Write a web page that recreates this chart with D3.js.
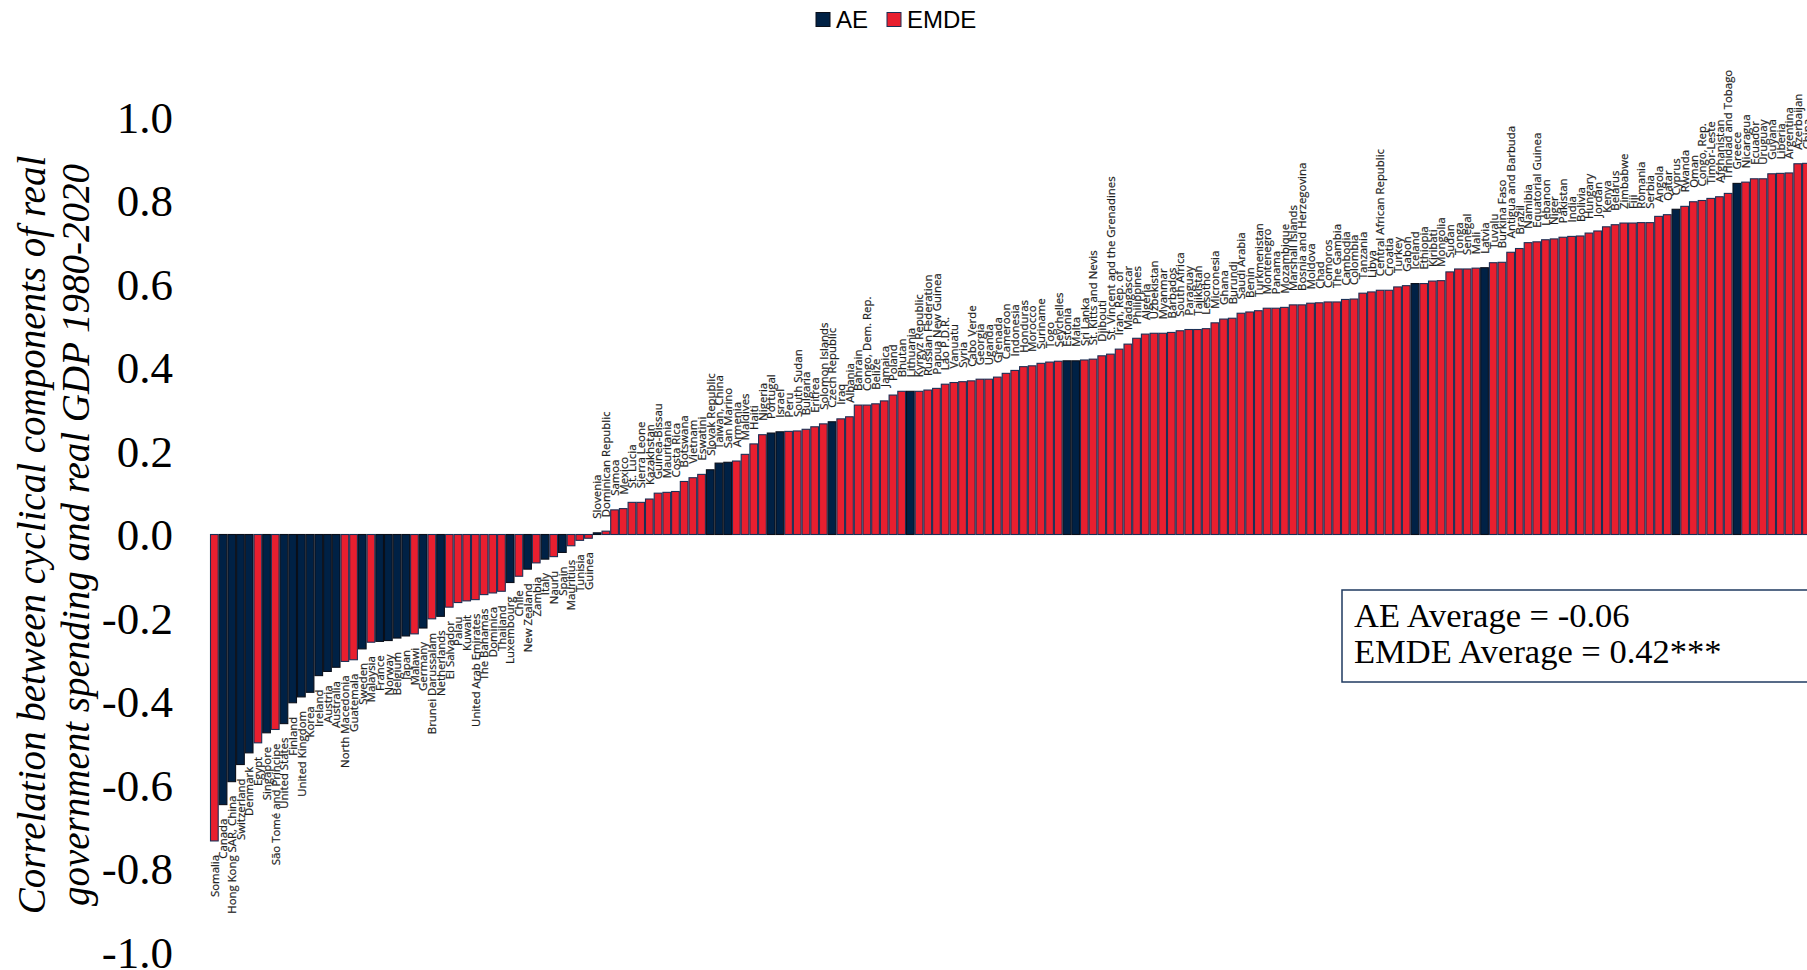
<!DOCTYPE html>
<html>
<head>
<meta charset="utf-8">
<script src="https://cdn.jsdelivr.net/npm/d3@7"></script>
<style>
  html, body { margin: 0; padding: 0; background: #fff; }
  svg { display: block; }
</style>
</head>
<body>
<svg id="chart" width="1807" height="970"></svg>
<script>
// Countries ordered by correlation (ascending)
const countries = [
  "Somalia","Canada","Hong Kong SAR, China","Switzerland","Denmark","Egypt","Singapore","São Tomé and Príncipe","United States","Finland",
  "United Kingdom","Korea","Ireland","Austria","Australia","North Macedonia","Guatemala","Sweden","Malaysia","France",
  "Norway","Belgium","Japan","Malawi","Germany","Brunei Darussalam","Netherlands","El Salvador","Palau","Kuwait",
  "United Arab Emirates","The Bahamas","Dominica","Thailand","Luxembourg","Chile","New Zealand","Zambia","Italy","Nauru",
  "Spain","Mauritius","Tunisia","Guinea","Slovenia","Dominican Republic","Samoa","Mexico","St. Lucia","Sierra Leone",
  "Kazakhstan","Guinea-Bissau","Mauritania","Costa Rica","Botswana","Vietnam","Eswatini","Slovak Republic","Taiwan, China","San Marino",
  "Armenia","Maldives","Haiti","Nigeria","Portugal","Israel","Peru","South Sudan","Bulgaria","Eritrea",
  "Solomon Islands","Czech Republic","Iraq","Albania","Bahrain","Congo, Dem. Rep.","Belize","Jamaica","Poland","Bhutan",
  "Lithuania","Kyrgyz Republic","Russian Federation","Papua New Guinea","Lao P.D.R.","Vanuatu","Syria","Cabo Verde","Georgia","Uganda",
  "Grenada","Cameroon","Indonesia","Honduras","Morocco","Suriname","Togo","Seychelles","Estonia","Malta",
  "Sri Lanka","St. Kitts and Nevis","Djibouti","St. Vincent and the Grenadines","Iran, Rep. of","Madagascar","Philippines","Algeria","Uzbekistan","Myanmar",
  "Barbados","South Africa","Paraguay","Tajikistan","Lesotho","Micronesia","Ghana","Burundi","Saudi Arabia","Benin",
  "Turkmenistan","Montenegro","Panama","Mozambique","Marshall Islands","Bosnia and Herzegovina","Moldova","Chad","Comoros","The Gambia",
  "Cambodia","Colombia","Tanzania","Libya","Central African Republic","Croatia","Turkey","Gabon","Iceland","Ethiopia",
  "Kiribati","Mongolia","Sudan","Tonga","Senegal","Mali","Latvia","Tuvalu","Burkina Faso","Antigua and Barbuda",
  "Brazil","Namibia","Equatorial Guinea","Lebanon","Niger","Pakistan","India","Bolivia","Hungary","Jordan",
  "Kenya","Belarus","Zimbabwe","Fiji","Romania","Serbia","Angola","Qatar","Cyprus","Rwanda",
  "Oman","Congo, Rep.","Timor-Leste","Afghanistan","Trinidad and Tobago","Greece","Nicaragua","Ecuador","Uruguay","Guyana",
  "Liberia","Argentina","Azerbaijan","China"
];

// Correlation coefficients, same order as countries
const values = [
  -0.734,-0.647,-0.592,-0.551,-0.523,-0.499,-0.475,-0.467,-0.453,-0.403,
  -0.389,-0.378,-0.338,-0.328,-0.318,-0.304,-0.300,-0.274,-0.258,-0.256,
  -0.254,-0.248,-0.243,-0.238,-0.224,-0.202,-0.196,-0.174,-0.163,-0.159,
  -0.156,-0.144,-0.140,-0.136,-0.115,-0.100,-0.083,-0.068,-0.059,-0.053,
  -0.043,-0.027,-0.014,-0.009,0.004,0.008,0.059,0.062,0.077,0.077,
  0.085,0.099,0.101,0.103,0.127,0.136,0.144,0.155,0.171,0.173,
  0.176,0.192,0.217,0.239,0.243,0.246,0.247,0.248,0.252,0.258,
  0.265,0.270,0.277,0.282,0.310,0.310,0.313,0.320,0.334,0.343,
  0.343,0.343,0.346,0.350,0.360,0.364,0.366,0.368,0.372,0.372,
  0.377,0.386,0.393,0.402,0.404,0.410,0.413,0.415,0.416,0.416,
  0.418,0.420,0.428,0.432,0.444,0.456,0.470,0.480,0.482,0.482,
  0.484,0.488,0.491,0.491,0.493,0.507,0.516,0.518,0.530,0.533,
  0.536,0.542,0.542,0.544,0.550,0.550,0.554,0.555,0.557,0.557,
  0.563,0.564,0.578,0.581,0.585,0.585,0.593,0.596,0.601,0.601,
  0.607,0.608,0.629,0.636,0.636,0.638,0.639,0.651,0.652,0.676,
  0.685,0.699,0.701,0.706,0.708,0.712,0.714,0.715,0.722,0.727,
  0.737,0.742,0.746,0.746,0.747,0.747,0.762,0.766,0.779,0.786,
  0.797,0.800,0.805,0.809,0.817,0.841,0.844,0.852,0.852,0.864,
  0.865,0.866,0.888,0.889
];

// Advanced economies; every other country is an EMDE
const advancedEconomies = [
  "Canada","Hong Kong SAR, China","Switzerland","Denmark","Singapore","United States","Finland","United Kingdom",
  "Korea","Ireland","Austria","Australia","Sweden","France","Norway","Belgium","Japan","Germany","Netherlands",
  "Luxembourg","New Zealand","Italy","Spain","Slovenia","Slovak Republic","Taiwan, China","San Marino","Portugal",
  "Israel","Czech Republic","Lithuania","Estonia","Malta","Iceland","Latvia","Cyprus","Greece"
];

const groups = ["AE", "EMDE"];
const yTicks = [1.0, 0.8, 0.6, 0.4, 0.2, 0.0, -0.2, -0.4, -0.6, -0.8, -1.0];
const averageLines = ["AE Average = -0.06", "EMDE Average = 0.42***"];
const yTitleLines = [
  "Correlation between cyclical components of real",
  "government spending and real GDP 1980-2020"
];

const fillColor = { AE: "#002145", EMDE: "#e81f2f" };
const strokeColor = { AE: "#0a0f1a", EMDE: "#1c2f55" };

const rows = countries.map((c, i) => ({
  country: c,
  value: values[i],
  group: advancedEconomies.includes(c) ? "AE" : "EMDE"
}));

const svg = d3.select("#chart");
const W = 1807, H = 970;
svg.append("rect").attr("width", W).attr("height", H).attr("fill", "#fff");

const step = 8.7;
const x0 = 210;
const x = d3.scaleBand()
  .domain(countries)
  .range([x0, x0 + step * countries.length])
  .paddingInner(0).paddingOuter(0);

const y = d3.scaleLinear().domain([-1, 1]).range([952, 117]);

// Bars
svg.append("g").selectAll("rect")
  .data(rows)
  .join("rect")
  .attr("x", d => x(d.country) + 0.5)
  .attr("width", x.bandwidth() - 1)
  .attr("y", d => Math.min(y(d.value), y(0)))
  .attr("height", d => Math.max(0.5, Math.abs(y(d.value) - y(0))))
  .attr("fill", d => fillColor[d.group])
  .attr("stroke", d => strokeColor[d.group])
  .attr("stroke-width", 1.1);

// Country labels, rotated, above positive bars and below negative ones
const gap = 14;
svg.append("g").selectAll("text")
  .data(rows)
  .join("text")
  .attr("transform", d => {
    const cx = x(d.country) + x.bandwidth() / 2 + 4.3;
    const cy = d.value >= 0 ? y(d.value) - gap : y(d.value) + gap;
    return `translate(${cx},${cy}) rotate(-90)`;
  })
  .attr("text-anchor", d => d.value >= 0 ? "start" : "end")
  .attr("font-family", "'Open Sans', sans-serif")
  .attr("font-size", 11.4)
  .attr("fill", "#1e1e1e")
  .attr("stroke", "#1e1e1e")
  .attr("stroke-width", 0.2)
  .text(d => d.country);

// Y axis
const yAxis = d3.axisLeft(y)
  .tickValues(yTicks)
  .tickSize(0)
  .tickPadding(0)
  .tickFormat(d => d.toFixed(1));
const gy = svg.append("g").attr("transform", "translate(173,0)").call(yAxis);
gy.select(".domain").remove();
gy.selectAll("text")
  .attr("font-family", "'Liberation Serif', 'Times New Roman', serif")
  .attr("font-size", 45)
  .attr("fill", "#000")
  .attr("dy", "0.34em");

// Y axis title (two lines)
const cyTitle = 535;
yTitleLines.forEach((line, i) => {
  svg.append("text")
    .attr("transform", `translate(${45 + i * 44},${cyTitle}) rotate(-90)`)
    .attr("text-anchor", "middle")
    .attr("font-family", "'Liberation Serif', 'Times New Roman', serif")
    .attr("font-style", "italic")
    .attr("font-size", 39)
    .attr("fill", "#000")
    .text(line);
});

// Legend
const legendX = [816, 887];
const legend = svg.append("g");
groups.forEach((g, i) => {
  legend.append("rect")
    .attr("x", legendX[i]).attr("y", 12.5)
    .attr("width", 14).attr("height", 14)
    .attr("fill", fillColor[g])
    .attr("stroke", strokeColor[g]).attr("stroke-width", 1);
  legend.append("text")
    .attr("x", legendX[i] + 20).attr("y", 28)
    .attr("font-family", "'Liberation Sans', Arial, sans-serif")
    .attr("font-size", 24)
    .attr("fill", "#000")
    .text(g);
});

// Averages box
const box = svg.append("g");
box.append("rect")
  .attr("x", 1342).attr("y", 590)
  .attr("width", 520).attr("height", 92)
  .attr("fill", "#fff")
  .attr("stroke", "#1f3a60").attr("stroke-width", 1.5);
averageLines.forEach((t, i) => {
  box.append("text")
    .attr("x", 1354).attr("y", 627 + i * 35.5)
    .attr("font-family", "'Liberation Serif', 'Times New Roman', serif")
    .attr("font-size", 34.5)
    .attr("fill", "#000")
    .text(t);
});
</script>
</body>
</html>
